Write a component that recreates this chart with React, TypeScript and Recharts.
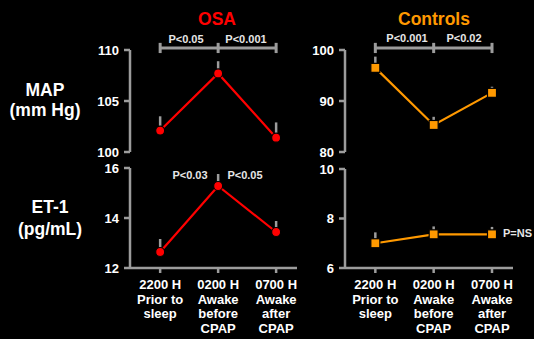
import React from 'react';
import { LineChart, Line, XAxis, YAxis, ErrorBar, ReferenceLine } from 'recharts';

const FONT = '"Liberation Sans", Arial, Helvetica, sans-serif';
const AXIS = '#9c9c9c';
const RED = '#ff0000';
const ORANGE = '#ff9900';

// time points (x positions as category index)
const timeIdx = [0, 1, 2];
const xTickLabels = [
  ['2200 H', 'Prior to', 'sleep'],
  ['0200 H', 'Awake', 'before', 'CPAP'],
  ['0700 H', 'Awake', 'after', 'CPAP'],
];

// MAP (mm Hg)
const osaMap = [102.1, 107.7, 101.4];
const osaMapErr = [1.4, 1.2, 1.5];
const ctrlMap = [96.5, 85.3, 91.6];
const ctrlMapErr = [2.2, 1.6, 1.2];

// ET-1 (pg/mL)
const osaEt1 = [12.64, 15.28, 13.44];
const osaEt1Err = [0.52, 0.48, 0.44];
const ctrlEt1 = [7.0, 7.36, 7.36];
const ctrlEt1Err = [0.44, 0.32, 0.3];

const mapOsaTicks = [100, 105, 110];
const mapCtrlTicks = [80, 90, 100];
const et1OsaTicks = [12, 14, 16];
const et1CtrlTicks = [6, 8, 10];

const xDomain = [-0.52, 2.36];

const build = (vals: number[], errs: number[]) =>
  timeIdx.map((t, i) => ({ t, v: vals[i], e: [0, errs[i]] }));

const XTick = (props: any) => {
  const { x, y, payload } = props;
  const lines = xTickLabels[payload.value] || [];
  return (
    <text x={x} y={y} textAnchor="middle" fill="#fff" fontSize={13} fontWeight="bold" fontFamily={FONT}>
      {lines.map((l, i) => (
        <tspan key={i} x={x} dy={i === 0 ? 14 : 14.5}>{l}</tspan>
      ))}
    </text>
  );
};

const CircleDot = (props: any) => {
  const { cx, cy, index } = props;
  return <circle key={`c${index}`} cx={cx} cy={cy} r={4.5} fill={RED} stroke="#000" strokeWidth={1.2} />;
};
const SquareDot = (props: any) => {
  const { cx, cy, index } = props;
  return <rect key={`s${index}`} x={cx - 4.5} y={cy - 4.5} width={9} height={9} fill={ORANGE} stroke="#000" strokeWidth={1.2} />;
};

type PanelProps = {
  data: any[];
  color: string;
  square?: boolean;
  margin: { top: number; right: number; bottom: number; left: number };
  yDomain: number[];
  yTicks: number[];
  showX?: boolean;
  bracketY?: number;
  bracketH?: number;
};

const Panel = ({ data, color, square, margin, yDomain, yTicks, showX, bracketY, bracketH }: PanelProps) => (
  <div style={{ position: 'absolute', left: 0, top: 0 }}>
    <LineChart width={534} height={339} data={data} margin={margin}>
      <XAxis
        dataKey="t"
        type="number"
        domain={xDomain}
        allowDataOverflow
        ticks={timeIdx}
        hide={!showX}
        height={71}
        axisLine={{ stroke: AXIS, strokeWidth: 2.5 }}
        tickLine={{ stroke: AXIS, strokeWidth: 2.5 }}
        tickSize={5}
        tickMargin={2}
        tick={<XTick />}
        interval={0}
      />
      <YAxis
        type="number"
        domain={yDomain}
        allowDataOverflow
        ticks={yTicks}
        width={40}
        axisLine={{ stroke: AXIS, strokeWidth: 2.5 }}
        tickLine={{ stroke: AXIS, strokeWidth: 2.5 }}
        tickSize={6}
        tickMargin={5}
        tick={{ fill: '#fff', fontSize: 13, fontWeight: 'bold', fontFamily: FONT }}
        interval={0}
      />
      {bracketY !== undefined && bracketH !== undefined && (
        <>
          <ReferenceLine segment={[{ x: 0, y: bracketY }, { x: 2, y: bracketY }]} stroke={AXIS} strokeWidth={3} ifOverflow="visible" />
          {timeIdx.map((t) => (
            <ReferenceLine
              key={`bt${t}`}
              segment={[{ x: t, y: bracketY - bracketH }, { x: t, y: bracketY + bracketH }]}
              stroke={AXIS}
              strokeWidth={3}
              ifOverflow="visible"
            />
          ))}
        </>
      )}
      <Line
        dataKey="v"
        stroke={color}
        strokeWidth={2.2}
        isAnimationActive={false}
        dot={square ? <SquareDot /> : <CircleDot />}
        activeDot={false}
      >
        <ErrorBar dataKey="e" direction="y" width={0} stroke={AXIS} strokeWidth={2.5} />
      </Line>
    </LineChart>
  </div>
);

const T = ({ x, y, children, size = 11, color = '#e6e6e6', anchor = 'center' }: any) => (
  <div
    style={{
      position: 'absolute',
      left: anchor === 'center' ? x - 100 : x,
      top: y - size * 0.6,
      width: anchor === 'center' ? 200 : undefined,
      textAlign: anchor === 'center' ? 'center' : 'left',
      fontFamily: FONT,
      fontWeight: 'bold',
      fontSize: size,
      lineHeight: `${size * 1.2}px`,
      color,
      whiteSpace: 'nowrap',
    }}
  >
    {children}
  </div>
);

export default function App() {
  return (
    <div style={{ position: 'absolute', left: 0, top: 0, width: 534, height: 339, background: '#000', overflow: 'hidden' }}>
      <Panel
        data={build(osaMap, osaMapErr)}
        color={RED}
        margin={{ top: 50, right: 237, bottom: 187, left: 90 }}
        yDomain={[100, 110]}
        yTicks={mapOsaTicks}
        bracketY={110.2}
        bracketH={0.5}
      />
      <Panel
        data={build(ctrlMap, ctrlMapErr)}
        color={ORANGE}
        square
        margin={{ top: 50, right: 21, bottom: 187, left: 305 }}
        yDomain={[80, 100]}
        yTicks={mapCtrlTicks}
        bracketY={100.4}
        bracketH={1}
      />
      <Panel
        data={build(osaEt1, osaEt1Err)}
        color={RED}
        margin={{ top: 168, right: 237, bottom: 0, left: 90 }}
        yDomain={[12, 16]}
        yTicks={et1OsaTicks}
        showX
      />
      <Panel
        data={build(ctrlEt1, ctrlEt1Err)}
        color={ORANGE}
        square
        margin={{ top: 169, right: 21, bottom: 0, left: 305 }}
        yDomain={[6, 10]}
        yTicks={et1CtrlTicks}
        showX
      />

      <T x={217} y={19} size={17.5} color={RED}>OSA</T>
      <T x={434} y={19} size={17.5} color={ORANGE}>Controls</T>

      <T x={45} y={90} size={17.5} color="#fff">MAP</T>
      <T x={45} y={110} size={17.5} color="#fff">(mm Hg)</T>
      <T x={50} y={207} size={17.5} color="#fff">ET-1</T>
      <T x={50} y={229} size={17.5} color="#fff">(pg/mL)</T>

      <T x={186} y={40}>P&lt;0.05</T>
      <T x={246} y={40}>P&lt;0.001</T>
      <T x={407} y={39}>P&lt;0.001</T>
      <T x={464} y={39}>P&lt;0.02</T>
      <T x={190} y={176}>P&lt;0.03</T>
      <T x={245} y={176}>P&lt;0.05</T>
      <T x={503} y={234} anchor="left">P=NS</T>
    </div>
  );
}
